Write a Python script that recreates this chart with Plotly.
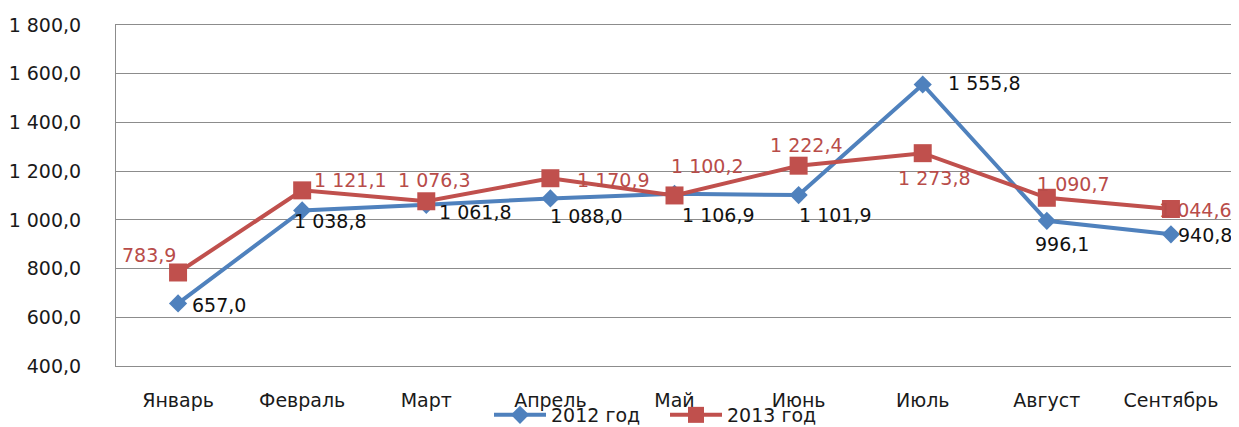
import plotly.graph_objects as go

months = ["Январь", "Февраль", "Март", "Апрель", "Май", "Июнь", "Июль", "Август", "Сентябрь"]
values_2012 = [657.0, 1038.8, 1061.8, 1088.0, 1106.9, 1101.9, 1555.8, 996.1, 940.8]
values_2013 = [783.9, 1121.1, 1076.3, 1170.9, 1100.2, 1222.4, 1273.8, 1090.7, 1044.6]
y_ticks = [400, 600, 800, 1000, 1200, 1400, 1600, 1800]

# label offsets (px) relative to each point: (dx, dy-down)
off_2012 = [(41, 2), (28, 11), (49, 7), (36, 18), (44, 21), (37, 20), (62, -1), (15, 23), (34, 1)]
off_2013 = [(-29, -17), (48, -10), (8, -21), (63, 2), (33, -29), (8, -21), (12, 25), (27, -14), (25, 1)]

BLUE = "#4F81BD"
RED = "#C0504D"
RED_TXT = "#B84C49"
FONT = "DejaVu Sans"


def fmt(v):
    s = f"{v:,.1f}"
    return s.replace(",", " ").replace(".", ",")


fig = go.Figure()
fig.add_trace(go.Scatter(
    x=months, y=values_2012, name="2012 год", mode="lines+markers",
    line=dict(color=BLUE, width=4),
    marker=dict(symbol="diamond", size=14, color=BLUE),
))
fig.add_trace(go.Scatter(
    x=months, y=values_2013, name="2013 год", mode="lines+markers",
    line=dict(color=RED, width=4),
    marker=dict(symbol="square", size=18, color=RED),
))

for vals, offs, col in ((values_2012, off_2012, "#111111"), (values_2013, off_2013, RED_TXT)):
    for m, v, (dx, dy) in zip(months, vals, offs):
        fig.add_annotation(
            x=m, y=v, text=fmt(v), showarrow=False,
            xshift=dx, yshift=-dy,
            font=dict(family=FONT, size=19, color=col),
            xanchor="center", yanchor="middle",
        )

fig.update_layout(
    width=1231, height=419,
    margin=dict(l=108, r=6, t=17, b=61, autoexpand=False),
    paper_bgcolor="white", plot_bgcolor="white",
    separators=", ",
    font=dict(family=FONT, size=19, color="#1a1a1a"),
    showlegend=True,
    legend=dict(
        orientation="h", x=(489 - 116) / 1117, xanchor="left",
        y=(366 - 415) / 341, yanchor="middle",
        font=dict(family=FONT, size=19, color="#1a1a1a"),
        itemwidth=52, entrywidth=109, bgcolor="rgba(0,0,0,0)",
        tracegroupgap=0, itemsizing="trace",
    ),
)
fig.update_xaxes(
    type="category", range=[-0.5, 8.5],
    showgrid=False, showline=True, linecolor="#8c8c8c", linewidth=1, mirror=True,
    ticks="", ticklabelstandoff=17, automargin=False,
    tickfont=dict(family=FONT, size=19, color="#1a1a1a"),
)
fig.update_yaxes(
    range=[400, 1800], tickvals=y_ticks, tickformat=",.1f",
    showgrid=True, gridcolor="#8c8c8c", gridwidth=1,
    showline=True, linecolor="#8c8c8c", linewidth=1,
    ticks="", ticklabelstandoff=30, zeroline=False, automargin=False,
    tickfont=dict(family=FONT, size=19, color="#1a1a1a"),
)

fig.write_html("out.html")
